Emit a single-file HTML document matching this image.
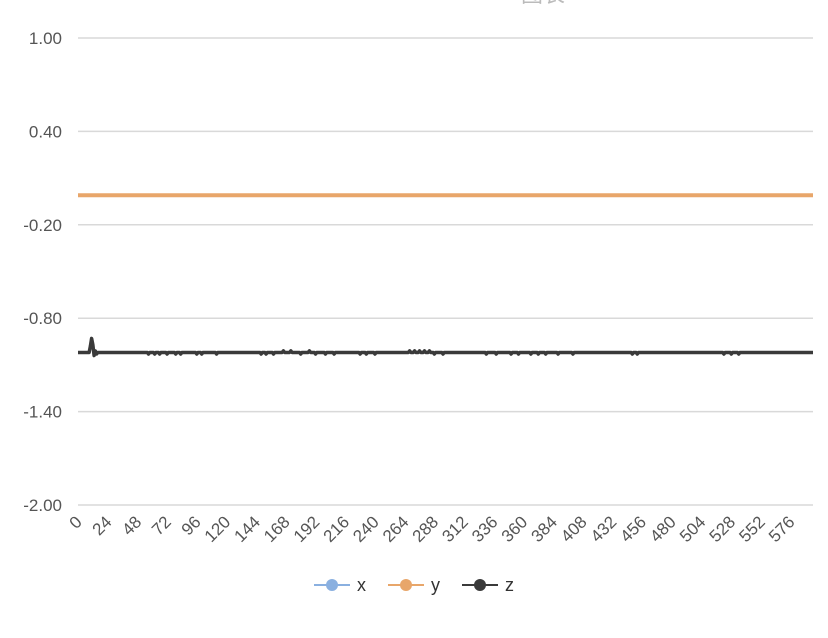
<!DOCTYPE html>
<html><head><meta charset="utf-8"><style>
body{margin:0;background:#fff;font-family:"Liberation Sans","Noto Sans CJK SC",sans-serif}
svg text{font-family:"Liberation Sans","Noto Sans CJK SC",sans-serif}
</style></head><body>
<svg id="chart" width="828" height="633" xmlns="http://www.w3.org/2000/svg">
<text x="543" y="2" text-anchor="middle" font-size="22" fill="#bbb">图表</text>
<g id="grid"></g><g id="ylabels"></g><g id="xlabels"></g><g id="series"></g>
<g font-size="18" fill="#333">
 <g><line x1="314" y1="585" x2="350" y2="585" stroke="#8ab0e0" stroke-width="2"/><circle cx="332" cy="585" r="6" fill="#8ab0e0"/><text x="357" y="591">x</text></g>
 <g><line x1="388" y1="585" x2="424" y2="585" stroke="#e8a66a" stroke-width="2"/><circle cx="406" cy="585" r="6" fill="#e8a66a"/><text x="431" y="591">y</text></g>
 <g><line x1="462" y1="585" x2="498" y2="585" stroke="#3a3a3a" stroke-width="2"/><circle cx="480" cy="585" r="6" fill="#3a3a3a"/><text x="505" y="591">z</text></g>
</g>
</svg>
<script>
const yTicks=[1.00,0.40,-0.20,-0.80,-1.40,-2.00];
const xTickLabels=[0,24,48,72,96,120,144,168,192,216,240,264,288,312,336,360,384,408,432,456,480,504,528,552,576];
const pointCount=595;
const xBase=-0.01;
const yBase=-0.01;
const zBase=-1.02;
const zSpikes=[[10,-0.98],[11,-0.93],[12,-0.97],[13,-1.04],[14,-1.01],[15,-1.03],
[57,-1.03],[62,-1.03],[66,-1.03],[72,-1.03],[79,-1.03],[83,-1.03],[96,-1.03],[100,-1.03],[112,-1.03],
[148,-1.03],[152,-1.03],[158,-1.03],[166,-1.01],[172,-1.01],[180,-1.03],[187,-1.01],[192,-1.03],[200,-1.03],[207,-1.03],
[228,-1.03],[233,-1.03],[240,-1.03],[268,-1.01],[272,-1.01],[276,-1.01],[280,-1.01],[284,-1.01],[288,-1.03],[295,-1.03],
[330,-1.03],[338,-1.03],[350,-1.03],[356,-1.03],[366,-1.03],[372,-1.03],[378,-1.03],[388,-1.03],[400,-1.03],
[448,-1.03],[452,-1.03],[522,-1.03],[528,-1.03],[534,-1.03]];
const NS='http://www.w3.org/2000/svg';
const X0=78,X1=813,Y0=38,Y1=505,yMin=-2,yMax=1;
const sx=i=>X0+i*(X1-X0)/(pointCount-1);
const sy=v=>Y1-(v-yMin)/(yMax-yMin)*(Y1-Y0);
function mk(t,a,p){const e=document.createElementNS(NS,t);for(const k in a)e.setAttribute(k,a[k]);p.appendChild(e);return e;}
const grid=document.getElementById('grid'),yl=document.getElementById('ylabels'),xl=document.getElementById('xlabels'),ser=document.getElementById('series');
yTicks.forEach(v=>{
 const l=mk('line',{x1:X0,x2:X1,y1:sy(v),y2:sy(v),stroke:'#d9d9d9','stroke-width':1.5},grid);
 
 
 const t=mk('text',{x:62,y:sy(v)+6,'text-anchor':'end','font-size':17,fill:'#555'},yl);
 t.textContent=v.toFixed(2);
 
 
});
xTickLabels.forEach(v=>{
 const x=sx(v)+5,y=523;
 const t=mk('text',{x:x,y:y,'text-anchor':'end','font-size':17,fill:'#555',transform:`rotate(-45 ${x} ${y})`},xl);
 t.textContent=v;
 
 
});
const xs=[],ys=[],zs=[];
for(let i=0;i<pointCount;i++){xs.push(xBase);ys.push(yBase);zs.push(zBase);}
zSpikes.forEach(([i,v])=>{zs[i]=v;});
function draw(vals,color,name,w){
 const d=vals.map((v,i)=>(i?'L':'M')+sx(i).toFixed(2)+' '+sy(v).toFixed(2)).join(' ');
 const p=mk('path',{d:d,fill:'none',stroke:color,'stroke-width':w,'stroke-linejoin':'round'},ser);
 
 
}
draw(xs,'#8ab0e0','series-x-line',3);
draw(ys,'#e8a66a','series-y-line',4);
draw(zs,'#3a3a3a','series-z-line',3.5);
</script>
</body></html>
